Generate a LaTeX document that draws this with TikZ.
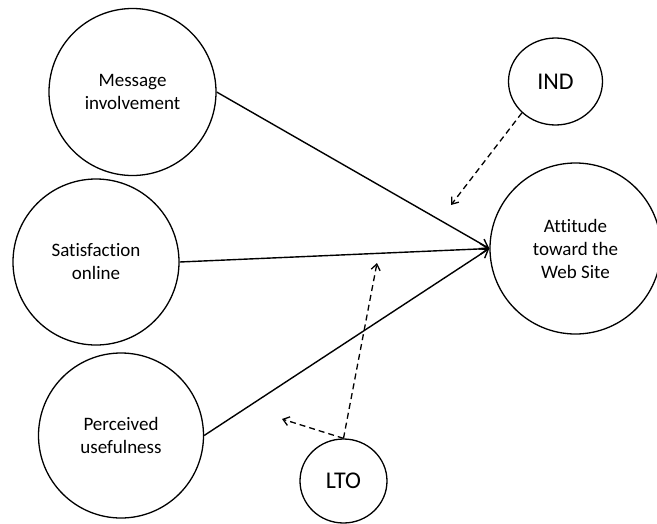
\documentclass[tikz,border=0pt]{standalone}
\usepackage{fontspec}
\setmainfont{Carlito}[Ligatures=NoCommon]
\usetikzlibrary{arrows.meta,shapes.geometric}

\tikzset{
  construct/.style={circle, draw, line width=1.3pt, inner sep=0pt, align=center,
                    font=\fontsize{19}{23}\selectfont},
  moderator/.style={ellipse, draw, line width=1.3pt, inner sep=0pt, align=center,
                    font=\fontsize{24}{28}\selectfont},
  path link/.style={line width=1.4pt, -{Straight Barb[length=8pt,width=11pt,line width=1.4pt]}},
  mod link/.style={line width=1.3pt, dash pattern=on 6pt off 4pt,
                   -{Straight Barb[length=6pt,width=9pt,line width=1.3pt]}}
}

\begin{document}
\begin{tikzpicture}[x=1pt, y=-1pt]
  \useasboundingbox (0,0) rectangle (657,523);

  % predictors
  \node[construct, minimum size=167pt] (msg) at (132.5,92) {Message\\involvement};
  \node[construct, minimum size=166pt] (sat) at (96,262) {Satisfaction\\online};
  \node[construct, minimum size=165pt] (use) at (121,435.5) {Perceived\\usefulness};

  % outcome
  \node[construct, minimum size=171pt] (att) at (575.5,248.5) {Attitude\\toward the\\Web Site};

  % moderators
  \node[moderator, minimum width=94pt, minimum height=87pt] (ind) at (555.5,81.5) {IND};
  \node[moderator, minimum width=87pt, minimum height=84pt] (lto) at (343.5,481) {LTO};

  % free ends of the moderating arrows
  \coordinate (indtip) at (451,205);
  \coordinate (ltotipA) at (377,263);
  \coordinate (ltotipB) at (282,419);

  % direct effects
  \draw[path link] (msg.east) -- (att.west);
  \draw[path link] (sat.east) -- (att.west);
  \draw[path link] (use.east) -- (att.west);

  % moderating effects
  \draw[mod link] (ind.223) -- (indtip);
  \draw[mod link] (lto.north) -- (ltotipA);
  \draw[mod link] (lto.north) -- (ltotipB);
\end{tikzpicture}
\end{document}
